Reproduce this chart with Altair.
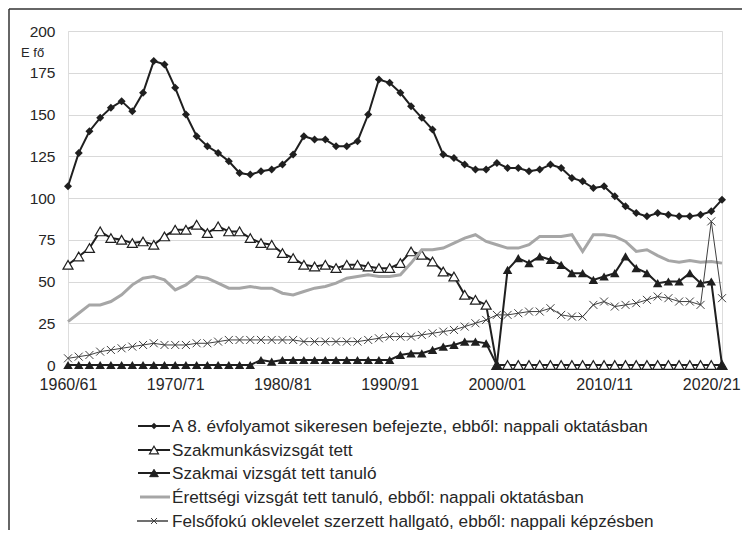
import altair as alt
import pandas as pd

# ---- data -------------------------------------------------------------
years = [f"{y}/{(y + 1) % 100:02d}" for y in range(1960, 2022)]
tick_labels = ["1960/61", "1970/71", "1980/81", "1990/91", "2000/01", "2010/11", "2020/21"]

labels = [
    "A 8. évfolyamot sikeresen befejezte, ebből: nappali oktatásban",
    "Szakmunkásvizsgát tett",
    "Szakmai vizsgát tett tanuló",
    "Érettségi vizsgát tett tanuló, ebből: nappali oktatásban",
    "Felsőfokú oklevelet szerzett hallgató, ebből: nappali képzésben",
]

s_8evf = [107, 127, 140, 148, 154, 158, 152, 163, 182, 180,
          166, 150, 137, 131, 127, 122, 115, 114, 116, 117,
          120, 126, 137, 135, 135, 131, 131, 134, 150, 171,
          169, 163, 155, 148, 141, 126, 124, 120, 117, 117,
          121, 118, 118, 116, 117, 120, 118, 112, 110, 106,
          107, 101, 95, 91, 89, 91, 90, 89, 89, 90,
          92, 99]

s_szakmunkas = [60, 65, 70, 80, 76, 75, 73, 74, 72, 77,
                81, 81, 84, 79, 83, 80, 80, 76, 73, 72,
                67, 64, 60, 59, 60, 58, 60, 60, 59, 58,
                58, 61, 68, 66, 62, 56, 53, 42, 39, 36,
                0, 0, 0, 0, 0, 0, 0, 0, 0, 0,
                0, 0, 0, 0, 0, 0, 0, 0, 0, 0,
                0, 0]

s_szakmai = [0, 0, 0, 0, 0, 0, 0, 0, 0, 0,
             0, 0, 0, 0, 0, 0, 0, 0, 3, 2,
             3, 3, 3, 3, 3, 3, 3, 3, 3, 3,
             3, 6, 7, 7, 9, 11, 12, 14, 14, 13,
             0, 57, 64, 61, 65, 63, 60, 55, 55, 51,
             53, 55, 65, 58, 55, 49, 50, 50, 55, 49,
             50, 0]

s_erettsegi = [26, 31, 36, 36, 38, 42, 48, 52, 53, 51,
               45, 48, 53, 52, 49, 46, 46, 47, 46, 46,
               43, 42, 44, 46, 47, 49, 52, 53, 54, 53,
               53, 54, 61, 69, 69, 70, 73, 76, 78, 74,
               72, 70, 70, 72, 77, 77, 77, 78, 68, 78,
               78, 77, 74, 68, 69, 65.5, 62.5, 61.5, 62.5, 61.5,
               62, 61]

s_felsofoku = [4, 5, 6, 8, 9, 10, 11, 12, 13, 12,
               12, 12, 13, 13, 14, 15, 15, 15, 15, 15,
               15, 15, 14, 14, 14, 14, 14, 14, 15, 16,
               17, 17, 17, 18, 19, 20, 21, 23, 25, 27,
               30, 30, 31, 32, 32, 34, 30, 29, 29, 36,
               38, 35, 36, 37, 39, 41, 40, 38, 38, 36,
               86, 40]

series_values = [s_8evf, s_szakmunkas, s_szakmai, s_erettsegi, s_felsofoku]

# ---- styles -----------------------------------------------------------
FONT = "Liberation Sans"
TXT = "#262626"
CROSS = "M-1,-1L1,1M-1,1L1,-1"
TRI = "M0,-0.85L1,0.85L-1,0.85Z"
line_styles = [
    dict(color="#1f1f1f", strokeWidth=2),
    dict(color="#1f1f1f", strokeWidth=2),
    dict(color="#1f1f1f", strokeWidth=2),
    dict(color="#a6a6a6", strokeWidth=3),
    dict(color="#404040", strokeWidth=1),
]
point_styles = [
    dict(shape="diamond", filled=True, color="#1f1f1f", size=64, opacity=1),
    dict(shape="triangle-up", filled=True, fill="white", stroke="#1f1f1f", strokeWidth=1.2, size=100, opacity=1),
    dict(shape="triangle-up", filled=True, color="#1f1f1f", size=90, opacity=1),
    None,
    dict(shape=CROSS, filled=False, stroke="#404040", strokeWidth=1, size=64, opacity=1),
]
legend_point_styles = [
    dict(shape="diamond", filled=True, fill="#1f1f1f", size=42, opacity=1),
    dict(shape=TRI, filled=True, fill="white", stroke="#1f1f1f", strokeWidth=1.2, size=80, opacity=1),
    dict(shape=TRI, filled=True, fill="#1f1f1f", stroke="#1f1f1f", strokeWidth=1, size=75, opacity=1),
    None,
    dict(shape=CROSS, filled=False, stroke="#404040", strokeWidth=1, size=36, opacity=1),
]
legend_line_x = [(70, 102), (70, 102), (70, 102), (72, 102), (69, 100)]

W, H = 654, 334

x_enc = alt.X(
    "year:O",
    sort=years,
    scale=alt.Scale(type="point", padding=0),
    axis=alt.Axis(values=tick_labels, labelAngle=0, title=None, ticks=False,
                  domain=False, grid=False, labelFont=FONT, labelFontSize=16,
                  labelColor=TXT, labelPadding=11, labelOverlap=False),
)
y_enc = alt.Y(
    "value:Q",
    scale=alt.Scale(domain=[0, 200], nice=False),
    axis=alt.Axis(values=list(range(0, 201, 25)), title=None, ticks=False,
                  domain=False, grid=True, gridColor="#d9d9d9", gridWidth=1,
                  labelFont=FONT, labelFontSize=15.5, labelColor=TXT, labelPadding=13),
)

layers = []
for k, vals in enumerate(series_values):
    df = pd.DataFrame({"year": years, "value": vals, "series": labels[k]})
    base = alt.Chart(df)
    layers.append(base.mark_line(**line_styles[k]).encode(x=x_enc, y=y_enc))
    if point_styles[k] is not None:
        layers.append(base.mark_point(**point_styles[k]).encode(x=x_enc, y=y_enc))

# unit label
layers.append(
    alt.Chart(pd.DataFrame({"t": ["E fő"]})).mark_text(
        align="left", baseline="middle", font=FONT, fontSize=13, color=TXT
    ).encode(x=alt.value(-47), y=alt.value(22), text="t:N")
)

# legend (drawn below the plot)
row_y = [395, 419, 442, 466, 490]
for k, lab in enumerate(labels):
    yy = row_y[k]
    ldf = pd.DataFrame({"label": [lab], "k": [k]})
    lb = alt.Chart(ldf)
    x1, x2 = legend_line_x[k]
    layers.append(lb.mark_rule(color=line_styles[k]["color"],
                               strokeWidth=line_styles[k]["strokeWidth"] if k != 4 else 1.5).encode(
        x=alt.value(x1), x2=alt.value(x2), y=alt.value(yy)))
    if legend_point_styles[k] is not None:
        layers.append(lb.mark_point(**legend_point_styles[k]).encode(
            x=alt.value(86), y=alt.value(yy)))
    layers.append(lb.mark_text(align="left", baseline="middle", font=FONT,
                               fontSize=17.2, color=TXT).encode(
        x=alt.value(104), y=alt.value(yy + 1), text="label:N"))

# outer frame (left and top edges)
frame = alt.Chart(pd.DataFrame({"f": [0]}))
layers.append(frame.mark_rule(color="#333333", strokeWidth=1.5).encode(
    x=alt.value(-59), y=alt.value(-22), y2=alt.value(H + 170)))
layers.append(frame.mark_rule(color="#333333", strokeWidth=1.5).encode(
    x=alt.value(-59), x2=alt.value(W + 30), y=alt.value(-22)))

chart = alt.layer(*layers).properties(
    width=W, height=H,
    autosize=alt.AutoSizeParams(type="none"),
    padding={"left": 60, "top": 23, "right": 20, "bottom": 165},
).configure_view(stroke=None).configure(background="white")

chart.save("out.html", embed_options={"renderer": "svg", "actions": False})
